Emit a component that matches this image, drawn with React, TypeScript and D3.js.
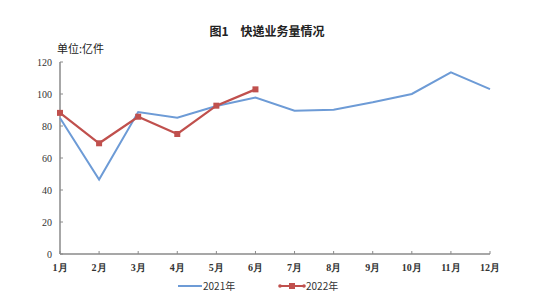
import React from "react";
import * as d3 from "d3";

const months = ["1月", "2月", "3月", "4月", "5月", "6月", "7月", "8月", "9月", "10月", "11月", "12月"];
const values2021 = [85, 46.5, 88.7, 85.2, 92.5, 97.8, 89.6, 90.2, 94.8, 100, 113.5, 103];
const values2022 = [88.2, 69.2, 85.8, 75, 92.7, 102.9];
const yTicks = [0, 20, 40, 60, 80, 100, 120];

const W = 554, H = 305;
const BLUE = "#6d9bd6";
const RED = "#c0504d";
const AXIS = "#8a8a8a";
const CJK = "'Noto Sans CJK SC', sans-serif";
const SERIF = "'Liberation Serif', 'DejaVu Serif', serif";

export default function App() {
  const x = d3.scalePoint<string>().domain(months).range([60, 490]);
  const y = d3.scaleLinear().domain([0, 120]).range([254, 62]);
  const line = d3.line<number>().x((_, i) => x(months[i])!).y((d) => y(d));

  return (
    <svg width={W} height={H} style={{ position: "absolute", left: 0, top: 0, background: "#fff" }}>
      <text x={267} y={36} textAnchor="middle" fontFamily={CJK} fontWeight={700} fontSize={12} fill="#222">
        图1　快递业务量情况
      </text>
      <text x={57} y={53} fontFamily={CJK} fontSize={11} fill="#222">单位:亿件</text>

      {/* y axis */}
      <line x1={60} x2={60} y1={y(120)} y2={y(0)} stroke={AXIS} strokeWidth={1.5} />
      {yTicks.map((t) => (
        <g key={t}>
          <line x1={60} x2={63} y1={y(t)} y2={y(t)} stroke={AXIS} strokeWidth={1} />
          <text x={52} y={y(t) + 3.5} textAnchor="end" fontFamily={SERIF} fontSize={10} fill="#333">{t}</text>
        </g>
      ))}

      {/* x axis */}
      <line x1={60} x2={490} y1={y(0)} y2={y(0)} stroke={AXIS} strokeWidth={1.5} />
      {months.map((m) => (
        <g key={m}>
          <line x1={x(m)!} x2={x(m)!} y1={y(0)} y2={y(0) - 3} stroke={AXIS} strokeWidth={1} />
          <text x={x(m)!} y={271} textAnchor="middle" fontFamily={SERIF} fontWeight={700} fontSize={10} fill="#333">{m}</text>
        </g>
      ))}

      <path d={line(values2021)!} fill="none" stroke={BLUE} strokeWidth={2} />
      <path d={line(values2022)!} fill="none" stroke={RED} strokeWidth={2.2} />
      {values2022.map((v, i) => (
        <rect key={i} x={x(months[i])! - 3} y={y(v) - 3} width={6} height={6} fill={RED} />
      ))}

      {/* legend */}
      <line x1={178} x2={202} y1={286} y2={286} stroke={BLUE} strokeWidth={2} />
      <text x={203} y={290} fontFamily={CJK} fontSize={10} fill="#333">2021年</text>
      <line x1={279} x2={305} y1={286} y2={286} stroke={RED} strokeWidth={2} />
      <rect x={289} y={283} width={6} height={6} fill={RED} />
      <circle cx={280} cy={286} r={1.8} fill={RED} />
      <circle cx={304} cy={286} r={1.8} fill={RED} />
      <text x={306} y={290} fontFamily={CJK} fontSize={10} fill="#333">2022年</text>
    </svg>
  );
}
